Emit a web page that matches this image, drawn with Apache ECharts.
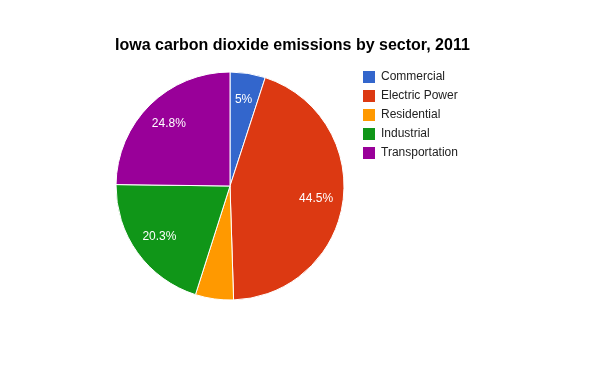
<!DOCTYPE html>
<html>
<head>
<meta charset="utf-8">
<script src="https://cdn.jsdelivr.net/npm/echarts@6/dist/echarts.min.js"></script>
<style>html,body{margin:0;padding:0;background:#fff}#c{width:600px;height:371px}</style>
</head>
<body>
<div id="c"></div>
<script>
const titleText = 'Iowa carbon dioxide emissions by sector, 2011';
const categories = ['Commercial', 'Electric Power', 'Residential', 'Industrial', 'Transportation'];
const values = [5.0, 44.5, 5.4, 20.3, 24.8];
const labels = ['5%', '44.5%', '', '20.3%', '24.8%'];
const colors = ['#3366cc', '#dc3912', '#ff9900', '#109618', '#990099'];

const chart = echarts.init(document.getElementById('c'), null, {renderer: 'canvas'});
const font = 'Arial, "Liberation Sans", sans-serif';
chart.setOption({
  animation: false,
  color: colors,
  title: {
    text: titleText,
    left: 110, top: 33,
    textStyle: {fontFamily: font, fontSize: 16, fontWeight: 'bold', color: '#000'}
  },
  legend: {
    orient: 'vertical',
    left: 361, top: 69,
    padding: 0,
    icon: 'rect',
    itemWidth: 14, itemHeight: 14, itemGap: 3,
    textStyle: {fontFamily: font, fontSize: 12, color: '#222', padding: [0, 0, 0, 0]},
    data: categories
  },
  series: [
    {
      type: 'pie',
      center: [230, 186],
      radius: [0, 114],
      startAngle: 90,
      clockwise: true,
      label: {show: false},
      labelLine: {show: false},
      itemStyle: {borderColor: '#fff', borderWidth: 1},
      emphasis: {disabled: true},
      data: categories.map((c, i) => ({name: c, value: values[i]}))
    },
    {
      type: 'pie',
      center: [230, 186],
      radius: [58, 110],
      startAngle: 90,
      clockwise: true,
      silent: true,
      legendHoverLink: false,
      itemStyle: {color: 'rgba(0,0,0,0)', borderWidth: 0},
      label: {
        show: true, position: 'inside',
        fontFamily: font, fontSize: 12, color: '#fff',
        formatter: p => labels[p.dataIndex]
      },
      labelLine: {show: false},
      emphasis: {disabled: true},
      data: categories.map((c, i) => ({name: c + ' ', value: values[i]}))
    }
  ]
});
</script>
</body>
</html>
